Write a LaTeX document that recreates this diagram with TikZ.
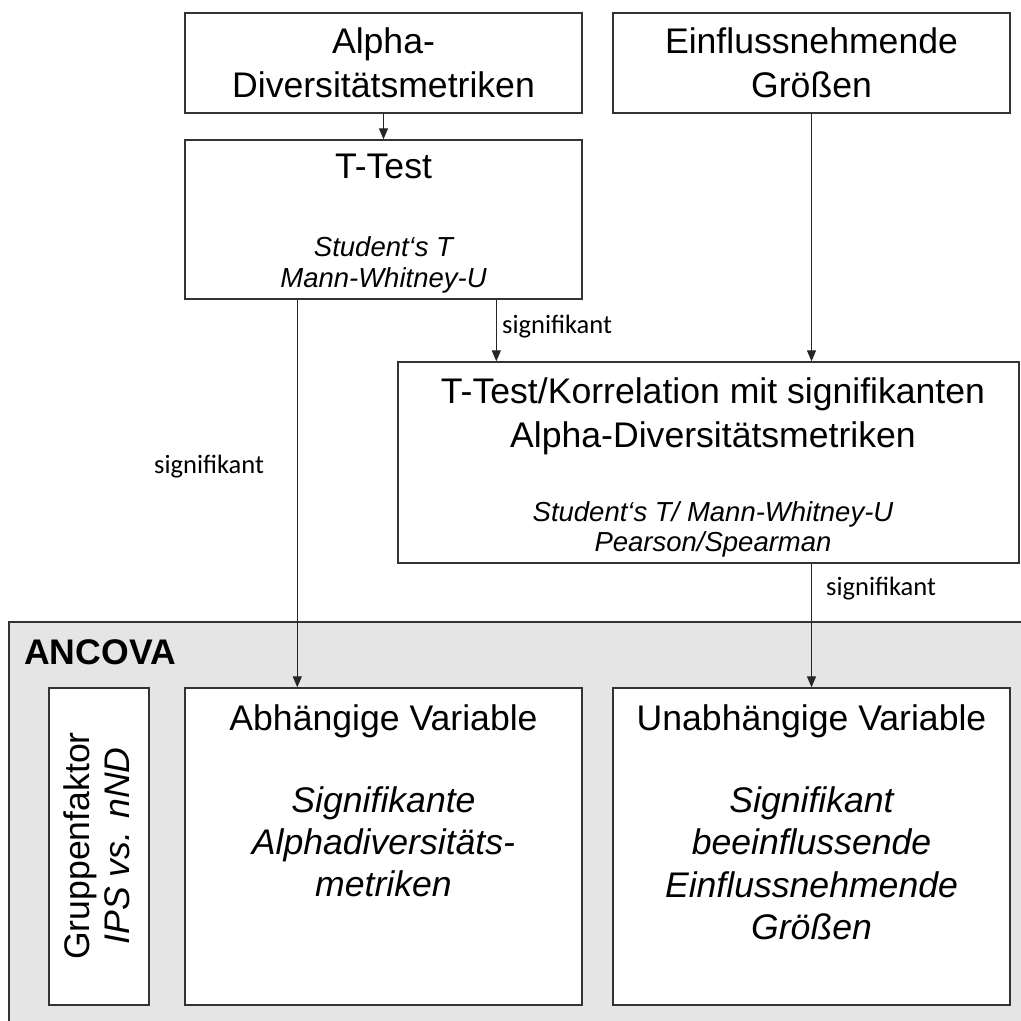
\documentclass[tikz,border=0pt]{standalone}
\usepackage{fontspec}
\setmainfont{Liberation Sans}
\newfontfamily\calibri{Carlito}
\usetikzlibrary{arrows.meta}
\tikzset{
  box/.style={draw=black!80, line width=1.4pt, fill=white, inner sep=0pt},
  arr/.style={draw=black!85, line width=1.3pt, -{Triangle[length=11pt,width=9pt]}},
  big/.style={anchor=base, inner sep=0pt, font=\fontsize{35.6}{43}\selectfont},
  bigit/.style={anchor=base, inner sep=0pt, font=\fontsize{35.6}{43}\selectfont\itshape},
  small/.style={anchor=base, inner sep=0pt, font=\fontsize{27.5}{31}\selectfont\itshape},
  lab/.style={anchor=base west, inner sep=0pt, font=\calibri\fontsize{26.5}{30}\selectfont}
}
\begin{document}
\begin{tikzpicture}[x=1pt,y=-1pt]
\useasboundingbox (0,0) rectangle (1021,1021);
% ANCOVA area
\fill[black!10] (9,622) rectangle (1030,1030);
\draw[black!80, line width=1.4pt] (9,1030) -- (9,622) -- (1030,622);
\node[anchor=base west, inner sep=0pt, font=\fontsize{35.6}{43}\selectfont\bfseries] (ancova) at (24,664) {ANCOVA};

% boxes
\node[box, minimum width=397pt, minimum height=100pt] (alpha) at (383.5,63) {};
\node[box, minimum width=397pt, minimum height=100pt] (einfluss) at (811.5,63) {};
\node[box, minimum width=397pt, minimum height=159pt] (ttest) at (383.5,219.5) {};
\node[box, minimum width=621pt, minimum height=201pt] (korr) at (708.5,462.5) {};
\node[box, minimum width=100pt, minimum height=317pt] (gruppe) at (99,846.5) {};
\node[box, minimum width=397pt, minimum height=317pt] (abh) at (383.5,846.5) {};
\node[box, minimum width=397pt, minimum height=317pt] (unabh) at (811.5,846.5) {};

% texts
\node[big] (t1) at (383.5,53) {Alpha-};
\node[big] (t2) at (383.5,97) {Diversitätsmetriken};
\node[big] (t3) at (811.5,53) {Einflussnehmende};
\node[big] (t4) at (811.5,97) {Größen};
\node[big] (t5) at (383.5,178) {T-Test};
\node[small] (t6) at (383.5,256) {Student‘s T};
\node[small] (t7) at (383.5,287) {Mann-Whitney-U};
\node[big] (t8) at (713,403) {T-Test/Korrelation mit signifikanten};
\node[big] (t9) at (713,447) {Alpha-Diversitätsmetriken};
\node[small] (t10) at (713,521) {Student‘s T/ Mann-Whitney-U};
\node[small] (t11) at (713,551) {Pearson/Spearman};
\node[big] (t12) at (383.5,730) {Abhängige Variable};
\node[bigit] (t13) at (383.5,812) {Signifikante};
\node[bigit] (t14) at (383.5,854) {Alphadiversitäts-};
\node[bigit] (t15) at (383.5,896) {metriken};
\node[big] (t16) at (811.5,730) {Unabhängige Variable};
\node[bigit] (t17) at (811.5,812) {Signifikant};
\node[bigit] (t18) at (811.5,854) {beeinflussende};
\node[bigit] (t19) at (811.5,897) {Einflussnehmende};
\node[bigit] (t20) at (811.5,939) {Größen};
\node[rotate=90, anchor=base, inner sep=0pt, font=\fontsize{35.6}{43}\selectfont] (g1) at (89,846) {Gruppenfaktor};
\node[rotate=90, anchor=base, inner sep=0pt, font=\fontsize{35.6}{43}\selectfont\itshape] (g2) at (129,846) {IPS vs. nND};

% connectors
\draw[arr] (alpha.south) -- (ttest.north);
\draw[arr] ([xshift=113pt]ttest.south west) -- ([xshift=113pt]abh.north west);
\draw[arr] ([xshift=312pt]ttest.south west) -- ([xshift=312pt]ttest.south west |- korr.north);
\draw[arr] (einfluss.south) -- (einfluss.south |- korr.north);
\draw[arr] (unabh.north |- korr.south) -- (unabh.north);

% labels
\node[lab] (s1) at (502,333) {signifikant};
\node[lab] (s2) at (154,473) {signifikant};
\node[lab] (s3) at (826,595) {signifikant};
\end{tikzpicture}
\end{document}
